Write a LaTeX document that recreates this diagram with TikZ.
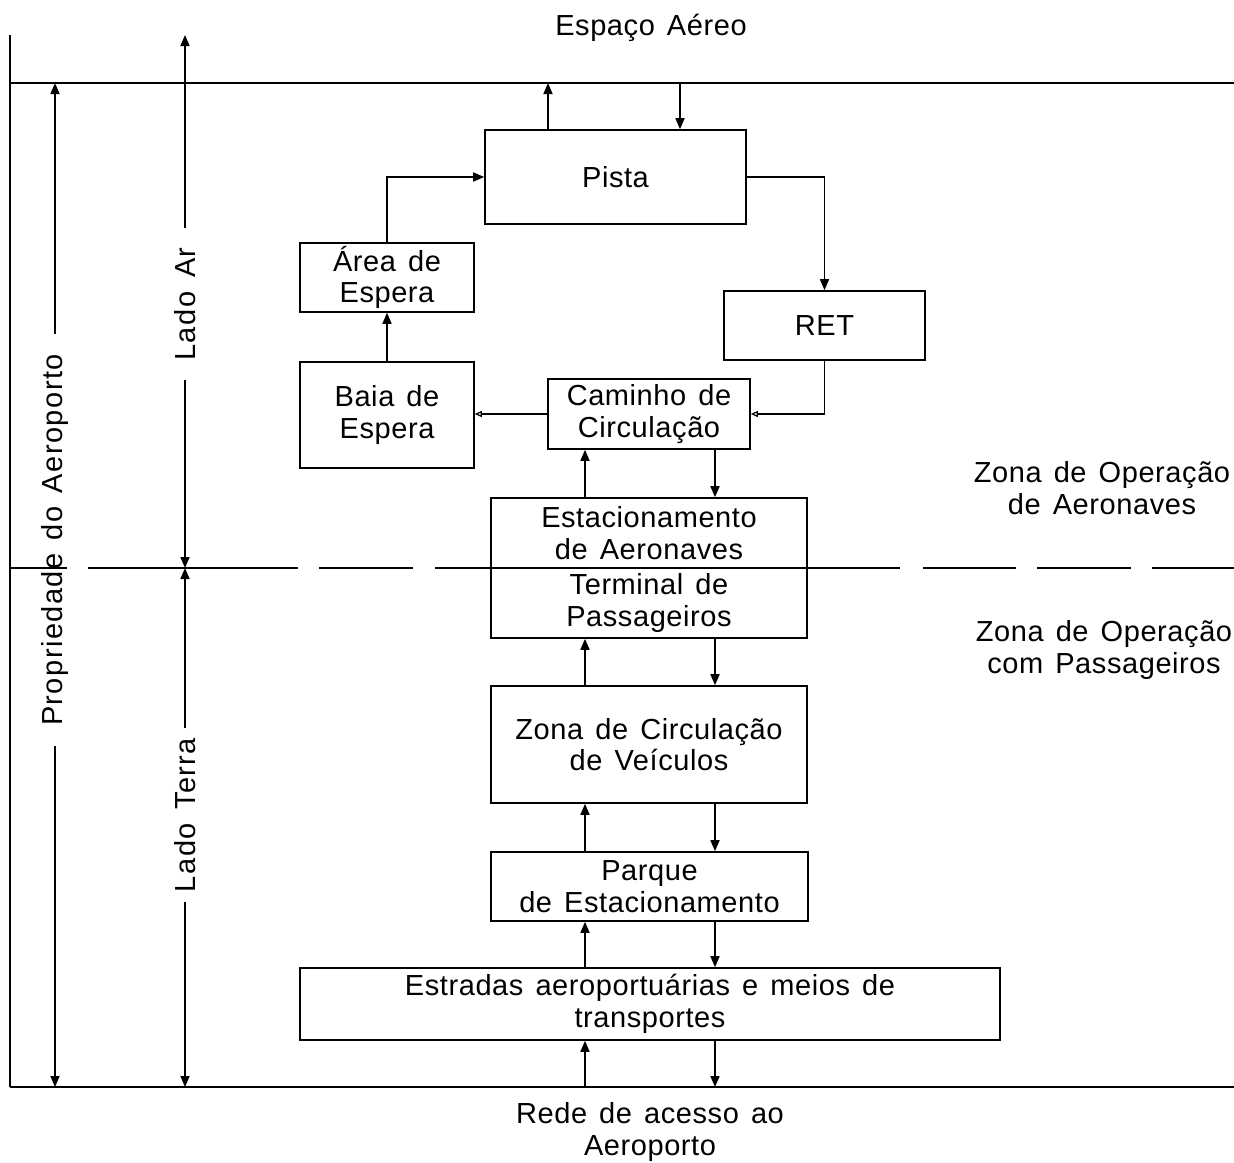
\documentclass[tikz,border=0pt]{standalone}
\usepackage{fontspec}
\setmainfont{Liberation Sans}[LetterSpace=2,WordSpace=1.4]
\usetikzlibrary{arrows.meta}
\newcommand{\fs}{\fontsize{29}{31.5}\selectfont}
\tikzset{
  box/.style={draw, line width=1.6pt, inner sep=0pt, align=center, font=\fs},
  lbl/.style={align=center, font=\fs, inner sep=0pt},
  arr/.style={-{Triangle[length=11pt,width=9pt]}},
  oarr/.style={-{Triangle[open,length=7pt,width=6pt,line width=1.2pt]}},
}
\begin{document}
\begin{tikzpicture}[x=1pt,y=-1pt,line width=1.6pt]
\useasboundingbox (0,0) rectangle (1234,1162);

% frame lines
\coordinate (topL) at (10,35);
\coordinate (skyL) at (10,83);
\coordinate (skyR) at (1234,83);
\coordinate (grdL) at (10,1087);
\coordinate (grdR) at (1234,1087);
\draw (skyL) -- (skyR);
\draw (grdL) -- (grdR);
\draw (topL) -- (grdL);

% dashed boundary
\foreach \a/\b in {10/67,88/298,319/413,435/900,923/1016,1037/1131,1152/1234}
  \draw (\a,568) -- (\b,568);

% boxes
\node[box, minimum width=261pt, minimum height=94pt] (pista) at (615.5,177) {Pista};
\node[box, minimum width=174pt, minimum height=69pt] (area) at (387,277.5) {Área de\\Espera};
\node[box, minimum width=201pt, minimum height=69pt] (ret) at (824.5,325.5) {RET};
\node[box, minimum width=174pt, minimum height=106pt] (baia) at (387,415) {Baia de\\Espera};
\node[box, minimum width=202pt, minimum height=70pt] (cam) at (649,414) {Caminho de\\Circulação};
\node[box, minimum width=316pt, minimum height=70pt] (est) at (649,533) {Estacionamento\\de Aeronaves};
\node[box, minimum width=316pt, minimum height=70pt] (term) at (649,603) {Terminal de\\Passageiros};
\node[box, minimum width=316pt, minimum height=117pt] (zcv) at (649,744.5) {Zona de Circulação\\de Veículos};
\node[box, minimum width=317pt, minimum height=69pt] (parque) at (649.5,886.5) {Parque\\de Estacionamento};
\node[box, minimum width=700pt, minimum height=72pt] (estr) at (650,1004) {Estradas aeroportuárias e meios de\\transportes};

% redraw dashed segment over the shared border
\draw (435,568) -- (900,568);

% free labels
\node[lbl] (sky) at (651,28) {Espaço Aéreo};
\node[lbl] (zoa) at (1102,488) {Zona de Operação\\de Aeronaves};
\node[lbl] (zop) at (1104,650) {Zona de Operação\\com Passageiros};
\node[lbl] (rede) at (650,1132) {Rede de acesso ao\\Aeroporto};

% pista connections
\coordinate (pOut) at (548,83);
\coordinate (pIn) at (680,83);
\draw[arr] (pista.north -| pOut) -- (pOut);
\draw[arr] (pIn) -- (pista.north -| pIn);
\draw[arr] (area.north) |- (pista.west);
\draw[arr] (pista.east) -| (ret.north);
\draw[oarr] (ret.south) |- (cam.east);
\draw[oarr] (cam.west) -- (baia.east |- cam.west);
\draw[arr] (baia.north) -- (area.south);

% vertical pairs
\coordinate (U) at (585,0);
\coordinate (D) at (715,0);
\draw[arr] (est.north -| U) -- (cam.south -| U);
\draw[arr] (cam.south -| D) -- (est.north -| D);
\draw[arr] (zcv.north -| U) -- (term.south -| U);
\draw[arr] (term.south -| D) -- (zcv.north -| D);
\draw[arr] (parque.north -| U) -- (zcv.south -| U);
\draw[arr] (zcv.south -| D) -- (parque.north -| D);
\draw[arr] (estr.north -| U) -- (parque.south -| U);
\draw[arr] (parque.south -| D) -- (estr.north -| D);
\draw[arr] (grdL -| U) -- (estr.south -| U);
\draw[arr] (estr.south -| D) -- (grdL -| D);

% dimension lines on the left
\coordinate (mid) at (10,568);
\node[lbl, rotate=90, minimum width=410pt] (prop) at (55,540) {\addfontfeatures{LetterSpace=5}Propriedade do Aeroporto};
\draw[arr] (prop.east) -- (skyL -| prop.east);
\draw[arr] (prop.west) -- (grdL -| prop.west);

\node[lbl, rotate=90, minimum width=150pt] (ladoar) at (185,304) {\addfontfeatures{LetterSpace=5}Lado\hspace{14pt}Ar};
\draw[arr] (ladoar.east) -- (topL -| ladoar.east);
\draw[arr] (ladoar.west) -- (mid -| ladoar.west);

\node[lbl, rotate=90, minimum width=172pt] (ladoterra) at (185,815) {\addfontfeatures{LetterSpace=5}Lado Terra};
\draw[arr] (ladoterra.east) -- (mid -| ladoterra.east);
\draw[arr] (ladoterra.west) -- (grdL -| ladoterra.west);
\end{tikzpicture}
\end{document}
